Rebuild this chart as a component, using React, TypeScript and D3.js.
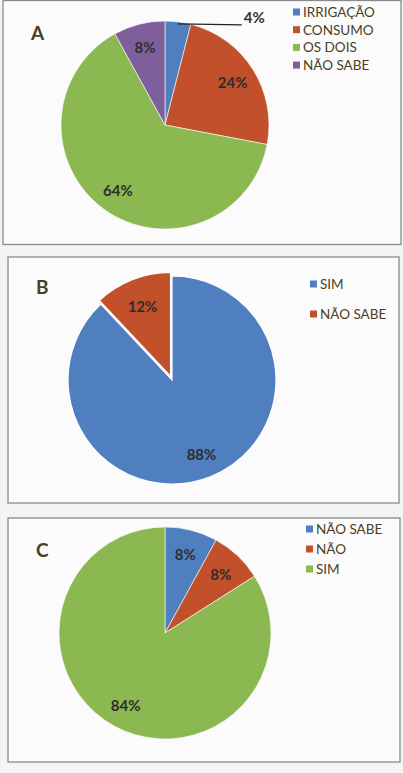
import * as d3 from "d3";
import React from "react";

// chart A
const catsA = ["IRRIGAÇÃO", "CONSUMO", "OS DOIS", "NÃO SABE"];
const valsA = [4, 24, 64, 8];
// chart B
const catsB = ["SIM", "NÃO SABE"];
const valsB = [88, 12];
// chart C
const catsC = ["NÃO SABE", "NÃO", "SIM"];
const valsC = [8, 8, 84];

const BLUE = "#4f7fbf";
const RED = "#c2502b";
const GREEN = "#8cb852";
const PURPLE = "#7e5f9c";

const colorsA = [BLUE, RED, GREEN, PURPLE];
const colorsB = [BLUE, RED];
const colorsC = [BLUE, RED, GREEN];

const TXT = "#4a3f24";
const FONT = "Lato, 'Open Sans', sans-serif";

type PanelProps = {
  letter: string;
  cats: string[];
  vals: number[];
  colors: string[];
  box: { x: number; y: number; w: number; h: number };
  cx: number;
  cy: number;
  r: number;
  labelK: number;
  letterPos: [number, number];
  legendX: number;
  legendY: number;
  legendStep: number;
  explode?: number[]; // px per slice
  stroke: number;
  outsideLabel?: number; // index of slice whose label sits outside
};

const Panel = (p: PanelProps) => {
  const pie = d3.pie<number>().sort(null).value((d) => d);
  const arcs = pie(p.vals);
  const arc = d3.arc<d3.PieArcDatum<number>>().innerRadius(0).outerRadius(p.r);
  const labelArc = d3
    .arc<d3.PieArcDatum<number>>()
    .innerRadius(p.r * p.labelK)
    .outerRadius(p.r * p.labelK);
  const edgeArc = d3
    .arc<d3.PieArcDatum<number>>()
    .innerRadius(p.r * 0.98)
    .outerRadius(p.r * 0.98);

  return (
    <g>
      <rect
        x={p.box.x}
        y={p.box.y}
        width={p.box.w}
        height={p.box.h}
        fill="#fbfbfb"
        stroke="#8a8a8a"
        strokeWidth={1.3}
      />
      <text
        x={p.letterPos[0]}
        y={p.letterPos[1]}
        fontFamily={FONT}
        fontWeight="bold"
        fontSize={19}
        fill={TXT}
      >
        {p.letter}
      </text>
      <g transform={`translate(${p.cx},${p.cy})`}>
        {arcs.map((a, i) => {
          const off = p.explode ? p.explode[i] : 0;
          const mid = (a.startAngle + a.endAngle) / 2;
          const dx = off * Math.sin(mid);
          const dy = -off * Math.cos(mid);
          return (
            <path
              key={i}
              d={arc(a) || ""}
              transform={`translate(${dx},${dy})`}
              fill={p.colors[i]}
              stroke="#ffffff"
              strokeWidth={p.stroke}
            />
          );
        })}
        {arcs.map((a, i) => {
          if (p.outsideLabel === i) {
            const [sx, sy] = edgeArc.centroid(a);
            const ex = sx + 64;
            return (
              <g key={"l" + i}>
                <line x1={sx} y1={sy} x2={ex} y2={sy + 1} stroke="#222" strokeWidth={1.3} />
                <text
                  x={ex + 2}
                  y={sy - 1}
                  fontFamily={FONT}
                  fontWeight="bold"
                  fontSize={15}
                  fill="#333"
                >
                  {p.vals[i]}%
                </text>
              </g>
            );
          }
          const [lx, ly] = labelArc.centroid(a);
          return (
            <text
              key={"l" + i}
              x={lx}
              y={ly}
              textAnchor="middle"
              dominantBaseline="central"
              fontFamily={FONT}
              fontWeight="bold"
              fontSize={15}
              fill="#2e2e2e"
            >
              {p.vals[i]}%
            </text>
          );
        })}
      </g>
      {p.cats.map((c, i) => (
        <g key={"lg" + i} transform={`translate(${p.legendX},${p.legendY + i * p.legendStep})`}>
          <rect x={0} y={-3.5} width={7} height={7} fill={p.colors[i]} />
          <text
            x={10}
            y={0}
            dominantBaseline="central"
            fontFamily={FONT}
            fontSize={13.5}
            fill={TXT}
          >
            {c}
          </text>
        </g>
      ))}
    </g>
  );
};

export default function App() {
  return (
    <svg
      width={403}
      height={773}
      style={{ position: "absolute", left: 0, top: 0, background: "#f4f4f4" }}
    >
      <Panel
        letter="A"
        cats={catsA}
        vals={valsA}
        colors={colorsA}
        box={{ x: 3, y: 0.5, w: 398, h: 244 }}
        cx={165}
        cy={125}
        r={104}
        labelK={0.77}
        letterPos={[31, 40]}
        legendX={293}
        legendY={12}
        legendStep={17.7}
        stroke={0.6}
        outsideLabel={0}
      />
      <Panel
        letter="B"
        cats={catsB}
        vals={valsB}
        colors={colorsB}
        box={{ x: 8, y: 257, w: 391, h: 246 }}
        cx={172}
        cy={380}
        r={104}
        labelK={0.77}
        letterPos={[36, 294]}
        legendX={310}
        legendY={284}
        legendStep={30}
        stroke={1.2}
        explode={[0, 4]}
      />
      <Panel
        letter="C"
        cats={catsC}
        vals={valsC}
        colors={colorsC}
        box={{ x: 8, y: 518, w: 392, h: 244 }}
        cx={165}
        cy={633}
        r={106}
        labelK={0.77}
        letterPos={[36, 557]}
        legendX={306}
        legendY={529}
        legendStep={20}
        stroke={0.6}
      />
    </svg>
  );
}
